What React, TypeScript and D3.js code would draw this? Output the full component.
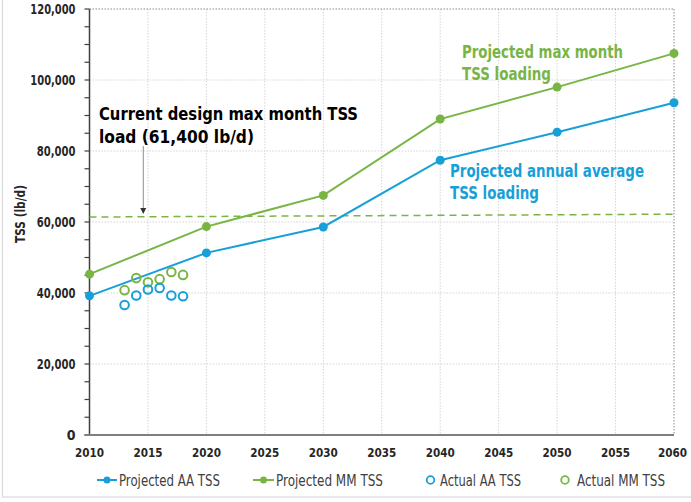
import React from "react";
import * as d3 from "d3";

const projYears = [2010, 2020, 2030, 2040, 2050, 2060];
const projAA = [39200, 51300, 58600, 77400, 85300, 93600];
const projMM = [45300, 58700, 67500, 89000, 98000, 107500];
const actualYears = [2013, 2014, 2015, 2016, 2017, 2018];
const actualAA = [36600, 39300, 41000, 41400, 39300, 39100];
const actualMM = [40800, 44200, 43000, 43900, 45900, 45100];
const designYears = [2010, 2060];
const designLoad = [61400, 62200];
const xTicks = [2010, 2015, 2020, 2025, 2030, 2035, 2040, 2045, 2050, 2055, 2060];
const yTicks = [0, 20000, 40000, 60000, 80000, 100000, 120000];
const yMinorTicks = d3.range(0, 120001, 5000);

const BLUE = "#17a0d8";
const GREEN = "#78b545";
const FONT = "'Liberation Sans Narrow', 'DejaVu Sans Condensed', 'Roboto', sans-serif";

export default function App() {
  const W = 691, H = 502;
  const x = d3.scaleLinear().domain([2010, 2060]).range([89.5, 674]);
  const y = d3.scaleLinear().domain([0, 120000]).range([435, 9]);
  const line = d3.line<[number, number]>().x(d => x(d[0])).y(d => y(d[1]));
  const aaPts: [number, number][] = projYears.map((yr, i) => [yr, projAA[i]]);
  const mmPts: [number, number][] = projYears.map((yr, i) => [yr, projMM[i]]);
  const dPts: [number, number][] = designYears.map((yr, i) => [yr, designLoad[i]]);
  const fmt = d3.format(",");
  const arrowX = x(2014.6);
  const TL = { lengthAdjust: "spacingAndGlyphs" as const };

  return (
    <div style={{ position: "absolute", left: 0, top: 0 }}>
      <svg width={W} height={H} style={{ display: "block", fontFamily: FONT }}>
        <rect x={0} y={0} width={W} height={H} fill="#fff" />
        <rect x={2.5} y={-2} width={W - 2} height={H - 3} fill="none" stroke="#d9d9d9" strokeWidth={1.2} />
        {/* gridlines */}
        {xTicks.slice(1).map(t => (
          <line key={"gx" + t} x1={x(t)} x2={x(t)} y1={y(120000)} y2={y(0)}
            stroke={t === 2060 ? "#888" : "#d4d4d4"} strokeWidth={1} strokeDasharray="1.5,1.5" />
        ))}
        {yTicks.slice(1).map(t => (
          <line key={"gy" + t} x1={x(2010)} x2={x(2060)} y1={y(t)} y2={y(t)}
            stroke={t === 120000 ? "#888" : "#d4d4d4"} strokeWidth={1} strokeDasharray="1.5,1.5" />
        ))}
        {/* axes */}
        <line x1={x(2010)} x2={x(2010)} y1={y(120000)} y2={y(0)} stroke="#404040" strokeWidth={1.5} />
        {yMinorTicks.map(t => (
          <line key={"yt" + t} x1={x(2010) - 5} x2={x(2010)} y1={y(t)} y2={y(t)} stroke="#404040" strokeWidth={1.2} />
        ))}
        <line x1={x(2010) - 5} x2={x(2060)} y1={y(0)} y2={y(0)} stroke="#7f7f7f" strokeWidth={2} />
        {yTicks.map(t => {
          const s = fmt(t);
          return (
            <text key={"yl" + t} x={x(2010) - 14} y={y(t)} dy="0.35em" textAnchor="end"
              fontSize={14} fontWeight="bold" fill="#262626"
              {...(s.length > 1 ? { textLength: s.length * 6.45, ...TL } : {})}>{s}</text>
          );
        })}
        {xTicks.map(t => (
          <text key={"xl" + t} x={t === 2060 ? x(t) - 1.5 : x(t)} y={457} textAnchor="middle"
            fontSize={13} fontWeight="bold" fill="#262626" textLength={29} {...TL}>{t}</text>
        ))}
        <text transform={`translate(25,214) rotate(-90)`} textAnchor="middle" fontSize={14}
          fontWeight="bold" fill="#262626" textLength={58} {...TL}>TSS (lb/d)</text>
        {/* design line */}
        <path d={line(dPts) || ""} fill="none" stroke={GREEN} strokeWidth={1.5} strokeDasharray="7,5" />
        {/* projected lines */}
        <path d={line(mmPts) || ""} fill="none" stroke={GREEN} strokeWidth={2} />
        <path d={line(aaPts) || ""} fill="none" stroke={BLUE} strokeWidth={2} />
        {mmPts.map((p, i) => <circle key={"mm" + i} cx={x(p[0])} cy={y(p[1])} r={4.5} fill={GREEN} />)}
        {aaPts.map((p, i) => <circle key={"aa" + i} cx={x(p[0])} cy={y(p[1])} r={4.5} fill={BLUE} />)}
        {actualYears.map((yr, i) => (
          <circle key={"am" + i} cx={x(yr)} cy={y(actualMM[i])} r={4.3} fill="none" stroke={GREEN} strokeWidth={2} />
        ))}
        {actualYears.map((yr, i) => (
          <circle key={"aa2" + i} cx={x(yr)} cy={y(actualAA[i])} r={4.3} fill="none" stroke={BLUE} strokeWidth={2} />
        ))}
        {/* annotations */}
        <line x1={arrowX} x2={arrowX} y1={146} y2={209} stroke="#8c8c8c" strokeWidth={1} />
        <path d={`M${arrowX - 3},${208} L${arrowX + 3},${208} L${arrowX},${214} Z`} fill="#333" />
        <text x={99} y={120} fontSize={18} fontWeight="bold" fill="#000" textLength={259} {...TL}>Current design max month TSS</text>
        <text x={99} y={143} fontSize={18} fontWeight="bold" fill="#000" textLength={155} {...TL}>load (61,400 lb/d)</text>
        <text x={462} y={58} fontSize={18} fontWeight="bold" fill={GREEN} textLength={161} {...TL}>Projected max month</text>
        <text x={462} y={80} fontSize={18} fontWeight="bold" fill={GREEN} textLength={89} {...TL}>TSS loading</text>
        <text x={450} y={177} fontSize={18} fontWeight="bold" fill={BLUE} textLength={194} {...TL}>Projected annual average</text>
        <text x={450} y={199} fontSize={18} fontWeight="bold" fill={BLUE} textLength={89} {...TL}>TSS loading</text>
        {/* legend */}
        <g fontSize={16} fill="#404040">
          <line x1={97} x2={117} y1={480} y2={480} stroke={BLUE} strokeWidth={2} />
          <circle cx={107} cy={480} r={3.5} fill={BLUE} />
          <text x={119} y={480} dy="0.35em" textLength={101} {...TL}>Projected AA TSS</text>
          <line x1={253} x2={274} y1={480} y2={480} stroke={GREEN} strokeWidth={2} />
          <circle cx={263.5} cy={480} r={3.5} fill={GREEN} />
          <text x={276} y={480} dy="0.35em" textLength={107} {...TL}>Projected MM TSS</text>
          <circle cx={430.5} cy={480} r={3.8} fill="none" stroke={BLUE} strokeWidth={1.8} />
          <text x={440} y={480} dy="0.35em" textLength={81} {...TL}>Actual AA TSS</text>
          <circle cx={565} cy={480} r={3.8} fill="none" stroke={GREEN} strokeWidth={1.8} />
          <text x={577} y={480} dy="0.35em" textLength={88} {...TL}>Actual MM TSS</text>
        </g>
      </svg>
    </div>
  );
}
